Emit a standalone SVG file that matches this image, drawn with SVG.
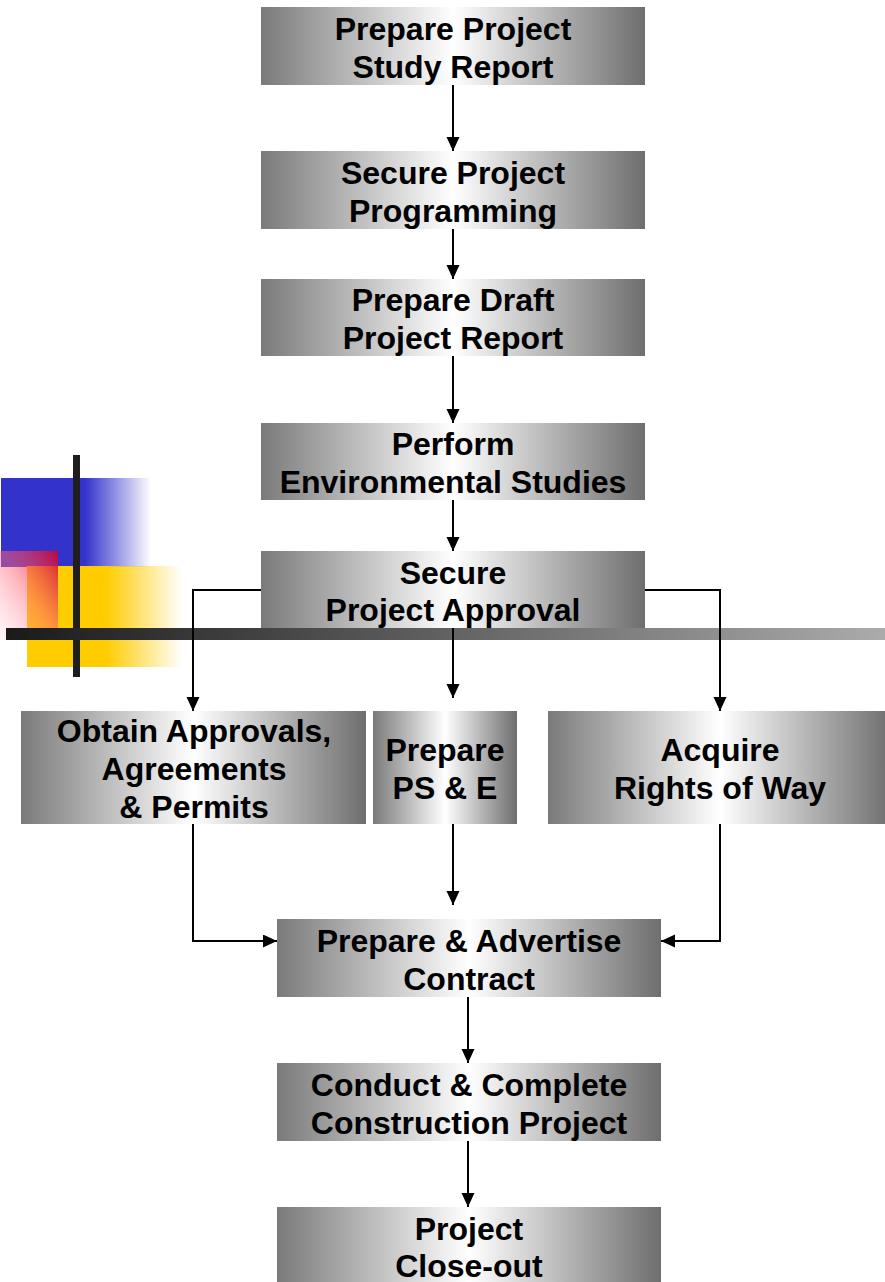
<svg xmlns="http://www.w3.org/2000/svg" width="885" height="1282" viewBox="0 0 885 1282">
<defs>
<linearGradient id="boxg" x1="0" y1="0" x2="1" y2="0">
<stop offset="0" stop-color="#7a7a7a"/>
<stop offset="0.5" stop-color="#ffffff"/>
<stop offset="1" stop-color="#6e6e6e"/>
</linearGradient>
<linearGradient id="blueg" x1="0" y1="0" x2="1" y2="0">
<stop offset="0" stop-color="#3333cc"/>
<stop offset="0.56" stop-color="#3333cc"/>
<stop offset="1" stop-color="#3333cc" stop-opacity="0"/>
</linearGradient>
<linearGradient id="yelg" x1="0" y1="0" x2="1" y2="0">
<stop offset="0" stop-color="#ffcc00"/>
<stop offset="0.51" stop-color="#ffcc00"/>
<stop offset="1" stop-color="#ffcc00" stop-opacity="0"/>
</linearGradient>
<linearGradient id="redg" x1="1" y1="0" x2="0" y2="1">
<stop offset="0" stop-color="#cc0033" stop-opacity="0.9"/>
<stop offset="0.5" stop-color="#ff6677" stop-opacity="0.5"/>
<stop offset="1" stop-color="#ffaabb" stop-opacity="0.1"/>
</linearGradient>
<linearGradient id="barg" x1="0" y1="0" x2="1" y2="0">
<stop offset="0" stop-color="#1a1a1a"/>
<stop offset="0.3" stop-color="#444444"/>
<stop offset="1" stop-color="#ababab"/>
</linearGradient>
<marker id="arr" markerUnits="userSpaceOnUse" markerWidth="14" markerHeight="14" refX="14" refY="6.5" orient="auto">
<path d="M0,0 L14,6.5 L0,13 Z" fill="#000"/>
</marker>
<style>
.box { fill: url(#boxg); }
.t { font-family: "Liberation Sans", Arial, sans-serif; font-weight: bold; font-size: 32px; fill: #000; text-anchor: middle; }
.c { fill: none; stroke: #000; stroke-width: 2; }
</style>
</defs>

<g id="decoration">
<rect x="1" y="478" width="150" height="89" fill="url(#blueg)"/>
<rect x="27" y="566" width="155" height="101" fill="url(#yelg)"/>
<rect x="0" y="551" width="58" height="89" fill="url(#redg)"/>
<rect x="73" y="455" width="7" height="222" fill="#1e1e1e"/>
<rect x="6" y="628" width="879" height="12" fill="url(#barg)"/>
</g>

<g id="connectors">
<line class="c" x1="453" y1="85" x2="453" y2="151" marker-end="url(#arr)"/>
<line class="c" x1="453" y1="229" x2="453" y2="279" marker-end="url(#arr)"/>
<line class="c" x1="453" y1="356" x2="453" y2="423" marker-end="url(#arr)"/>
<line class="c" x1="453" y1="500" x2="453" y2="551" marker-end="url(#arr)"/>
<line class="c" x1="453" y1="628" x2="453" y2="698" marker-end="url(#arr)"/>
<polyline class="c" points="261,590 193,590 193,711" marker-end="url(#arr)"/>
<polyline class="c" points="645,590 720,590 720,711" marker-end="url(#arr)"/>
<polyline class="c" points="193,824 193,941 277,941" marker-end="url(#arr)"/>
<line class="c" x1="453" y1="824" x2="453" y2="905" marker-end="url(#arr)"/>
<polyline class="c" points="720,824 720,941 661,941" marker-end="url(#arr)"/>
<line class="c" x1="468" y1="997" x2="468" y2="1063" marker-end="url(#arr)"/>
<line class="c" x1="468" y1="1141" x2="468" y2="1207" marker-end="url(#arr)"/>
</g>

<g id="n1">
<rect class="box" x="261" y="7" width="384" height="78"/>
<text class="t" x="453" y="40">Prepare Project</text>
<text class="t" x="453" y="78">Study Report</text>
</g>
<g id="n2">
<rect class="box" x="261" y="151" width="384" height="78"/>
<text class="t" x="453" y="184">Secure Project</text>
<text class="t" x="453" y="222">Programming</text>
</g>
<g id="n3">
<rect class="box" x="261" y="279" width="384" height="77"/>
<text class="t" x="453" y="311">Prepare Draft</text>
<text class="t" x="453" y="349">Project Report</text>
</g>
<g id="n4">
<rect class="box" x="261" y="423" width="384" height="77"/>
<text class="t" x="453" y="455">Perform</text>
<text class="t" x="453" y="493">Environmental Studies</text>
</g>
<g id="n5">
<rect class="box" x="261" y="551" width="384" height="77"/>
<text class="t" x="453" y="584">Secure</text>
<text class="t" x="453" y="621">Project Approval</text>
</g>
<g id="n6">
<rect class="box" x="21" y="711" width="345" height="113"/>
<text class="t" x="194" y="742">Obtain Approvals,</text>
<text class="t" x="194" y="780">Agreements</text>
<text class="t" x="194" y="818">&amp; Permits</text>
</g>
<g id="n7">
<rect class="box" x="373" y="711" width="144" height="113"/>
<text class="t" x="445" y="761">Prepare</text>
<text class="t" x="445" y="799">PS &amp; E</text>
</g>
<g id="n8">
<rect class="box" x="548" y="711" width="344" height="113"/>
<text class="t" x="720" y="761">Acquire</text>
<text class="t" x="720" y="799">Rights of Way</text>
</g>
<g id="n9">
<rect class="box" x="277" y="919" width="384" height="78"/>
<text class="t" x="469" y="952">Prepare &amp; Advertise</text>
<text class="t" x="469" y="990">Contract</text>
</g>
<g id="n10">
<rect class="box" x="277" y="1063" width="384" height="78"/>
<text class="t" x="469" y="1096">Conduct &amp; Complete</text>
<text class="t" x="469" y="1134">Construction Project</text>
</g>
<g id="n11">
<rect class="box" x="277" y="1207" width="384" height="80"/>
<text class="t" x="469" y="1240">Project</text>
<text class="t" x="469" y="1277">Close-out</text>
</g>
</svg>
